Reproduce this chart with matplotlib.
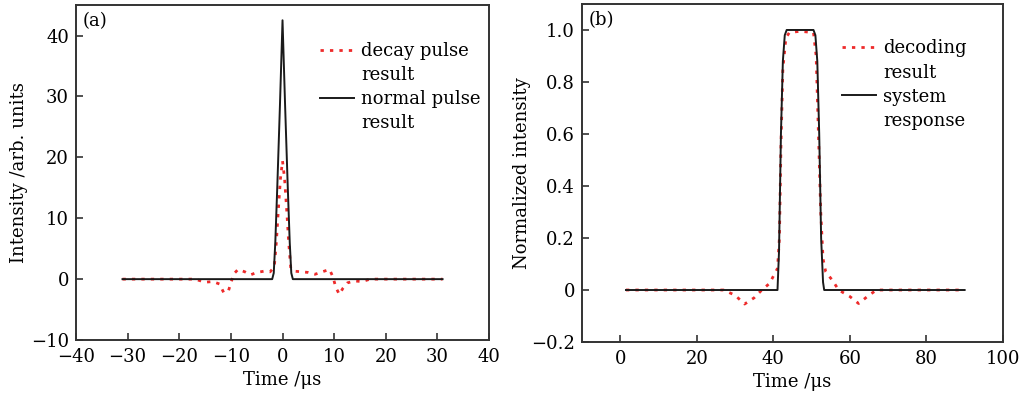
import matplotlib
matplotlib.use("Agg")

import matplotlib.pyplot as plt
from matplotlib.lines import Line2D
from matplotlib.ticker import FuncFormatter

plt.rcParams["font.family"] = ["DejaVu Serif"]
plt.rcParams["font.size"] = 13
plt.rcParams["axes.unicode_minus"] = True

# (a) decay pulse vs normal pulse
decay_t = [-31, -17, -15, -13.5, -12.2, -11.4, -10.5, -10, -9.4, -8.6, -7.3, -6.2, -5, -3.6,
           -2.4, -1.6, -1.2, -0.8, -0.4, 0, 0.4, 0.8, 1.2, 1.6, 2.4, 3.7, 5, 6.3, 7.7,
           9.1, 9.8, 10.3, 11, 11.7, 12.6, 14, 15.4, 17, 31]
decay_y = [0, 0, -0.5, -0.4, -0.8, -2.2, -2.0, -0.6, 0.9, 1.6, 1.2, 0.7, 1.1, 1.3,
           1.2, 2.0, 6.0, 11.5, 16.5, 19.4, 16.5, 11.5, 6.0, 1.8, 1.3, 1.2, 1.1, 0.8, 1.2,
           1.6, 0.3, -1.3, -2.5, -1.5, -0.6, -0.3, -0.4, 0, 0]

normal_t = [-31, -2.0, -1.7, -1.4, -1.0, -0.5, 0, 0.5, 1.0, 1.4, 1.7, 2.0, 31]
normal_y = [0, 0, 1.0, 6.0, 15.5, 28.5, 42.5, 28.5, 15.5, 6.0, 1.0, 0, 0]

# (b) decoding result vs system response
decoding_t = [1.5, 27, 30, 32.5, 35, 37, 39, 41.1, 41.6, 42, 42.5, 43.3, 44.2, 47, 50.5,
              51.2, 51.8, 52.4, 53, 53.7, 55.4, 57.1, 60, 62.3, 65, 67, 90]
decoding_y = [0, 0, -0.02, -0.054, -0.03, 0, 0.025, 0.083, 0.2, 0.55, 0.85, 0.97, 0.99,
              0.995, 0.99, 0.9, 0.6, 0.3, 0.12, 0.07, 0.038, 0, -0.025, -0.052, -0.02, 0, 0]

system_t = [1.5, 41.1, 41.5, 42, 42.5, 43, 43.5, 50.5, 51, 51.5, 52, 52.5, 53, 53.3, 90]
system_y = [0, 0, 0.15, 0.6, 0.88, 0.98, 1.0, 1.0, 0.98, 0.88, 0.6, 0.2, 0.03, 0, 0]

red = "#ee2a2a"
dot = (0, (1.2, 2.2))


def style_axes(ax):
    for s in ax.spines.values():
        s.set_color("#333333")
        s.set_linewidth(1.4)
    ax.tick_params(direction="in", length=5, width=1.2, color="#333333",
                   top=False, right=False, labelsize=13)
    ax.tick_params(axis="x", pad=6)
    ax.tick_params(axis="y", pad=5)


def add_legend(ax, anchor, lab1, lab2):
    # two-line labels, handle sitting on the first line
    blank = Line2D([], [], color="none")
    red_h = Line2D([], [], color=red, lw=2.0, linestyle=dot)
    blk_h = Line2D([], [], color="#1a1a1a", lw=1.4)
    ax.legend([red_h, blank, blk_h, blank],
              [lab1[0], lab1[1], lab2[0], lab2[1]],
              loc="upper left", bbox_to_anchor=anchor, frameon=False,
              handlelength=1.9, handletextpad=0.4, labelspacing=0.34,
              borderaxespad=0, borderpad=0)


fig = plt.figure(figsize=(10.19, 4.01), dpi=100)

ax1 = fig.add_axes([0.0746, 0.152, 0.4053, 0.8354])
ax1.plot(decay_t, decay_y, color=red, lw=2.0, linestyle=dot)
ax1.plot(normal_t, normal_y, color="#1a1a1a", lw=1.4)
ax1.set_xlim(-40, 40)
ax1.set_ylim(-10, 45)
ax1.set_xticks(range(-40, 41, 10))
ax1.set_yticks(range(-10, 41, 10))
ax1.set_xlabel("Time /μs", labelpad=3)
ax1.set_ylabel("Intensity /arb. units", labelpad=2)
ax1.text(0.015, 0.98, "(a)", transform=ax1.transAxes, ha="left", va="top")
add_legend(ax1, (0.59, 0.89), ("decay pulse", "result"), ("normal pulse", "result"))
style_axes(ax1)

ax2 = fig.add_axes([0.5711, 0.1471, 0.4131, 0.843])
ax2.plot(decoding_t, decoding_y, color=red, lw=2.0, linestyle=dot)
ax2.plot(system_t, system_y, color="#1a1a1a", lw=1.4)
ax2.set_xlim(-10, 100)
ax2.set_ylim(-0.2, 1.1)
ax2.set_xticks(range(0, 101, 20))
ax2.set_yticks([-0.2, 0, 0.2, 0.4, 0.6, 0.8, 1.0])
ax2.yaxis.set_major_formatter(FuncFormatter(
    lambda v, p: "0" if abs(v) < 1e-9 else f"{v:.1f}".replace("-", "\u2212")))
ax2.set_xlabel("Time /μs", labelpad=3)
ax2.set_ylabel("Normalized intensity", labelpad=0)
ax2.text(0.015, 0.98, "(b)", transform=ax2.transAxes, ha="left", va="top")
add_legend(ax2, (0.617, 0.895), ("decoding", "result"), ("system", "response"))
style_axes(ax2)

fig.savefig("out.png", dpi=100)
